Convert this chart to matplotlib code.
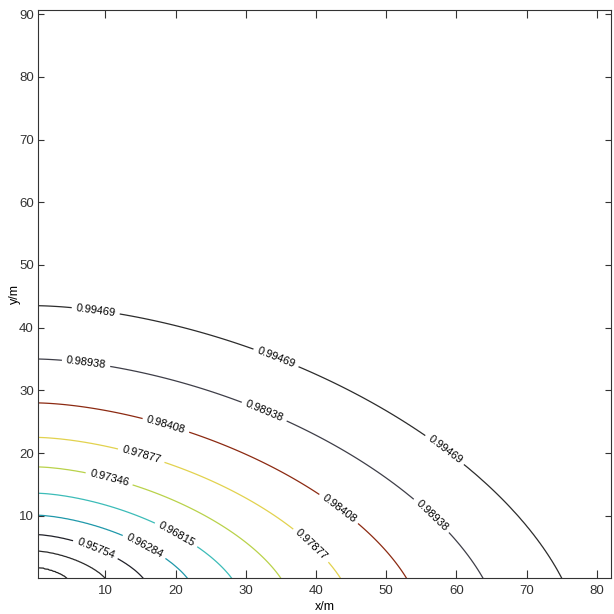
import numpy as np
import matplotlib
matplotlib.use("Agg")
import matplotlib.pyplot as plt

plt.rcParams['font.family'] = ['DejaVu Sans Condensed', 'Liberation Sans', 'DejaVu Sans']

# contour levels (innermost -> outermost)
levels = [0.94692, 0.95223, 0.95754, 0.96284, 0.96815, 0.97346, 0.97877, 0.98408, 0.98938, 0.99469]
# where each level crosses the y axis (x=0) and the x axis (y=0), in metres
y_cross = [1.8, 4.4, 7.0, 10.1, 13.6, 17.8, 22.5, 28.0, 35.0, 43.5]
x_cross = [4.6, 10.0, 15.4, 21.7, 28.0, 35.0, 43.5, 52.9, 63.8, 75.0]
# estimated value at the origin and beyond the outer line (no contour drawn there)
z_origin = 0.9416
z_far = 1.0
line_colors = ['#222222', '#2a2a2a', '#202028', '#1f98aa', '#3cbcb8',
               '#b9d24a', '#e2d24e', '#8c2a12', '#3e3e48', '#2c2c2c']

# Field: iso-lines are shifted super-ellipses through the read crossings
# -------------------------------------------------------------------
lv = np.array([z_origin] + levels + [z_far])
x0 = np.array([0.05] + x_cross + [95.0])
y0 = np.array([0.02] + y_cross + [55.0])
p = np.linspace(1.55, 1.72, len(lv))      # inner lines more diamond-like
c = np.linspace(0.30, 0.23, len(lv)) * y0  # centre sits a bit below y=0
b = y0 + c
a = x0 / (1 - (c / b) ** p) ** (1 / p)

xg = np.linspace(0.0, 82.5, 500)
yg = np.linspace(0.0, 91.0, 500)
X, Y = np.meshgrid(xg, yg)
S = ((X[None] / a[:, None, None]) ** p[:, None, None]
     + ((Y[None] + c[:, None, None]) / b[:, None, None]) ** p[:, None, None]) ** (1 / p[:, None, None])
L = np.log(S)
idx = np.clip((S >= 1).sum(axis=0) - 1, 0, len(lv) - 2)
l0 = np.take_along_axis(L, idx[None], 0)[0]
l1 = np.take_along_axis(L, idx[None] + 1, 0)[0]
t = np.clip(l0 / (l0 - l1), 0, 1)
Z = lv[idx] + t * (lv[idx + 1] - lv[idx])

# Frame
# -------------------------------------------------------------------
fig = plt.figure(figsize=(6.14, 6.14), dpi=100)
ax = fig.add_axes([0.062, 0.058, 0.933, 0.925])

cs = ax.contour(X, Y, Z, levels=levels, colors=line_colors, linewidths=0.9)

label_pos = [(8.6, 42.6), (34.3, 35.2), (58.0, 20.0),
             (7.2, 34.0), (32.4, 26.0), (55.6, 9.0),
             (18.5, 24.0), (42.5, 10.0),
             (15.1, 19.6), (38.9, 4.8),
             (10.6, 16.2),
             (20.5, 7.8),
             (15.5, 5.0),
             (8.4, 4.0)]
ax.clabel(cs, fmt='%.5f', colors='k', fontsize=8,
          inline=True, inline_spacing=4, manual=label_pos)

ax.set_xlim(0.4, 82.0)
ax.set_ylim(0.0, 90.6)
ax.set_xticks(np.arange(10, 81, 10))
ax.set_yticks(np.arange(10, 91, 10))
ax.tick_params(direction='in', top=True, right=True, width=0.8,
               labelsize=9.5, colors='#333333')
ax.tick_params(axis='x', length=5.5, pad=5)
ax.tick_params(axis='y', length=4, pad=3)
for s in ax.spines.values():
    s.set_color('#333333')
ax.set_xlabel("x/m", fontsize=9)
ax.set_ylabel("y/m", fontsize=9)
ax.xaxis.set_label_coords(0.5, -0.04)
ax.yaxis.set_label_coords(-0.03, 0.5)

fig.savefig("out.png", dpi=100)
